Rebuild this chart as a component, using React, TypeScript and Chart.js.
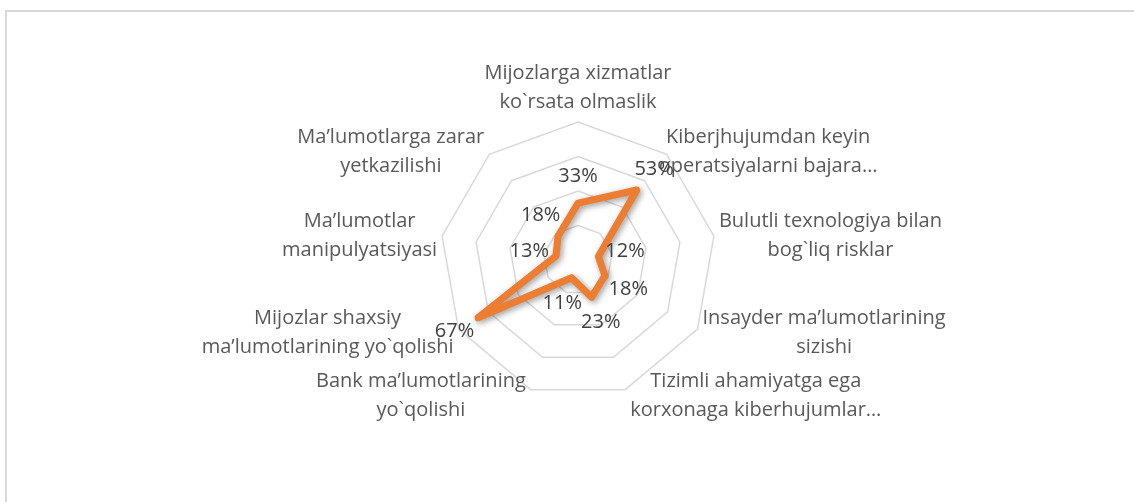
import React, { useEffect, useRef } from "react";
import { Chart, registerables } from "chart.js";

Chart.register(...registerables);

// ---- data ----
const categories: string[][] = [
  ["Mijozlarga xizmatlar", "ko`rsata olmaslik"],
  ["Kiberjhujumdan keyin", "operatsiyalarni bajara…"],
  ["Bulutli texnologiya bilan", "bog`liq risklar"],
  ["Insayder ma’lumotlarining", "sizishi"],
  ["Tizimli ahamiyatga ega", "korxonaga kiberhujumlar…"],
  ["Bank ma’lumotlarining", "yo`qolishi"],
  ["Mijozlar shaxsiy", "ma’lumotlarining yo`qolishi"],
  ["Ma’lumotlar", "manipulyatsiyasi"],
  ["Ma’lumotlarga zarar", "yetkazilishi"],
];
const values: number[] = [33, 53, 12, 18, 23, 11, 67, 13, 18];
const valueLabels: string[] = values.map((v) => v + "%");
const scaleMin = 0;
const scaleMax = 80;
const scaleStep = 20;

// ---- style ----
const FONT = "'Open Sans', 'Liberation Sans', sans-serif";
const LINE_COLOR = "#ED7D31";
const GRID_COLOR = "#d9d9d9";
const AXIS_TEXT = "#595959";
const VALUE_TEXT = "#404040";

const shadowPlugin = {
  id: "lineShadow",
  beforeDatasetDraw(chart: any) {
    const ctx = chart.ctx;
    ctx.save();
    ctx.shadowColor = "rgba(0,0,0,0.4)";
    ctx.shadowBlur = 6;
    ctx.shadowOffsetX = 2;
    ctx.shadowOffsetY = 2;
  },
  afterDatasetDraw(chart: any) {
    chart.ctx.restore();
  },
};

const labelPlugin = {
  id: "excelLabels",
  beforeDatasetsDraw(chart: any) {
    const scale = chart.scales.r;
    const ctx = chart.ctx;
    const n = categories.length;
    const lh = 29;
    ctx.save();
    ctx.font = `20px ${FONT}`;
    ctx.fillStyle = AXIS_TEXT;
    ctx.textBaseline = "middle";
    ctx.textAlign = "center";
    for (let i = 0; i < n; i++) {
      const th = (i * 2 * Math.PI) / n;
      const s = Math.sin(th);
      const c = Math.cos(th);
      const vx = scale.xCenter + scale.drawingArea * s;
      const vy = scale.yCenter - scale.drawingArea * c;
      const lines = categories[i];
      const w = Math.max(...lines.map((l) => ctx.measureText(l).width));
      const h = lines.length * lh;
      let bx: number;
      let by: number;
      if (Math.abs(s) < 0.1) {
        bx = vx;
        by = c > 0 ? vy - 5 - h / 2 : vy + 5 + h / 2;
      } else {
        const gap = s > 0 && c > 0.5 ? -8 : 5;
        bx = s > 0 ? vx + gap + w / 2 : vx - gap - w / 2;
        by = vy - 5 * c + 1;
      }
      lines.forEach((l, k) => {
        ctx.fillText(l, bx, by - h / 2 + lh / 2 + k * lh);
      });
    }
    ctx.restore();
  },
  afterDatasetsDraw(chart: any) {
    const ctx = chart.ctx;
    const n = categories.length;
    const meta = chart.getDatasetMeta(0);
    ctx.save();
    ctx.font = `20px ${FONT}`;
    ctx.fillStyle = VALUE_TEXT;
    ctx.textBaseline = "middle";
    ctx.textAlign = "center";
    meta.data.forEach((pt: any, i: number) => {
      const th = (i * 2 * Math.PI) / n;
      const s = Math.sin(th);
      const c = Math.cos(th);
      ctx.fillText(valueLabels[i], pt.x + 27 * s, pt.y - 27 * c);
    });
    ctx.restore();
  },
};

export default function App() {
  const canvasRef = useRef<HTMLCanvasElement | null>(null);

  useEffect(() => {
    if (!canvasRef.current) return;
    const chart = new Chart(canvasRef.current, {
      type: "radar",
      data: {
        labels: categories.map((c) => c.join(" ")),
        datasets: [
          {
            data: values,
            borderColor: LINE_COLOR,
            backgroundColor: "rgba(0,0,0,0)",
            borderWidth: 7,
            borderJoinStyle: "round",
            fill: false,
            pointRadius: 0,
            pointHoverRadius: 0,
          },
        ],
      },
      options: {
        animation: false,
        responsive: false,
        devicePixelRatio: 1,
        events: [],
        plugins: {
          legend: { display: false },
          tooltip: { enabled: false },
        },
        scales: {
          r: {
            min: scaleMin,
            max: scaleMax,
            ticks: { display: false, stepSize: scaleStep },
            grid: { color: GRID_COLOR, lineWidth: 1.5, circular: false },
            angleLines: { display: false },
            pointLabels: { display: false },
            afterFit: (s: any) => {
              s.xCenter = 578;
              s.yCenter = 260;
              s.drawingArea = 138;
            },
          },
        },
      } as any,
      plugins: [shadowPlugin, labelPlugin],
    });
    return () => chart.destroy();
  }, []);

  return (
    <div
      style={{
        position: "fixed",
        left: 0,
        top: 0,
        width: 1134,
        height: 502,
        background: "#ffffff",
        overflow: "hidden",
      }}
    >
      <div
        style={{
          position: "absolute",
          left: 5,
          top: 10,
          width: 1200,
          height: 600,
          borderLeft: `2px solid ${GRID_COLOR}`,
          borderTop: `2px solid ${GRID_COLOR}`,
        }}
      />
      <canvas
        ref={canvasRef}
        width={1134}
        height={502}
        style={{ position: "absolute", left: 0, top: 0 }}
      />
    </div>
  );
}
